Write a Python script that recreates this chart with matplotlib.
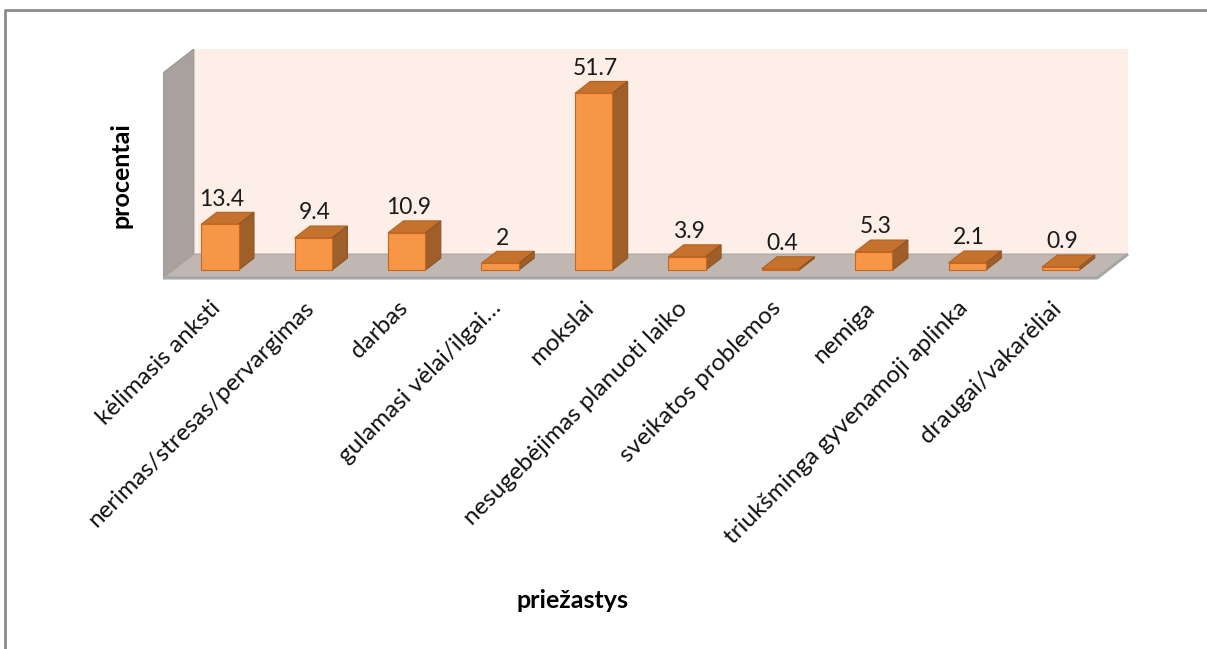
"""Priežastys - 3D stulpelinė diagrama (imituota 2D ašyse)"""
import matplotlib
matplotlib.use("Agg")
import matplotlib.pyplot as plt
from matplotlib.patches import Polygon, Rectangle
from matplotlib.lines import Line2D

categories = ["kėlimasis anksti", "nerimas/stresas/pervargimas", "darbas",
              "gulamasi vėlai/ilgai…", "mokslai",
              "nesugebėjimas planuoti laiko", "sveikatos problemos",
              "nemiga", "triukšminga gyvenamoji aplinka", "draugai/vakarėliai"]
values = [13.4, 9.4, 10.9, 2, 51.7, 3.9, 0.4, 5.3, 2.1, 0.9]
value_labels = ["13.4", "9.4", "10.9", "2", "51.7", "3.9", "0.4", "5.3",
                "2.1", "0.9"]

YMAX = 60
DX, DY = 0.33, 7.0      # gylio poslinkis (kategorijos / reikšmės vienetais)
Z0, Z1 = 0.33, 0.83     # stulpelio priekis ir galas (gylio dalis)
W = 0.4

FONT = ["Lato", "DejaVu Sans"]
plt.rcParams["font.family"] = FONT

W_PX, H_PX = 1207, 649
fig = plt.figure(figsize=(W_PX / 100, H_PX / 100), dpi=100)
ax = fig.add_axes([163 / W_PX, 1 - 278 / H_PX, 965 / W_PX, 229 / H_PX])
n = len(values)
ax.set_xlim(0, n + DX)
ax.set_ylim(0, YMAX + DY)
for s in ax.spines.values():
    s.set_visible(False)
ax.set_yticks([])

# sienos ir grindys
ax.add_patch(Rectangle((DX, DY), n, YMAX, facecolor="#fdeee8",
                       edgecolor="none", zorder=0))
ax.add_patch(Polygon([(0, 0), (DX, DY), (DX, DY + YMAX), (0, YMAX)],
                     closed=True, facecolor="#a8a19d", edgecolor="#9a9390",
                     lw=0.8, zorder=1))
ax.add_patch(Polygon([(0, 0), (n, 0), (n + DX, DY), (DX, DY)], closed=True,
                     facecolor="#c0b7b3", edgecolor="#a9a3a0", lw=0.8,
                     zorder=1))
ax.plot([0, n, n + DX], [0, 0, DY], color="#a6a6a6", lw=2.2, zorder=1,
        solid_capstyle="butt", clip_on=False)

# stulpeliai
x = [i + 0.5 for i in range(n)]
xf = [xi + Z0 * DX for xi in x]
ax.bar(xf, values, width=W, bottom=Z0 * DY, color="#f79646",
       edgecolor="#c8661c", linewidth=0.8, zorder=3)
for xi, v in zip(x, values):
    xl, xr = xi - W / 2, xi + W / 2
    top = [(xl + Z0 * DX, v + Z0 * DY), (xr + Z0 * DX, v + Z0 * DY),
           (xr + Z1 * DX, v + Z1 * DY), (xl + Z1 * DX, v + Z1 * DY)]
    side = [(xr + Z0 * DX, Z0 * DY), (xr + Z1 * DX, Z1 * DY),
            (xr + Z1 * DX, v + Z1 * DY), (xr + Z0 * DX, v + Z0 * DY)]
    ax.add_patch(Polygon(top, closed=True, facecolor="#c5722f",
                         edgecolor="#b5621f", lw=0.8, zorder=2))
    ax.add_patch(Polygon(side, closed=True, facecolor="#9e5f2a",
                         edgecolor="#8f5422", lw=0.8, zorder=2))

for xi, v, lab in zip(xf, values, value_labels):
    ax.annotate(lab, (xi + 0.02, v + Z1 * DY), xytext=(0, 2),
                textcoords="offset points", ha="center", va="bottom",
                fontsize=16.5, color="#1a1a1a", zorder=5)

ax.set_xticks(x)
ax.set_xticklabels(categories, rotation=45, ha="right",
                   rotation_mode="anchor", fontsize=17.5, color="#111111")
ax.tick_params(axis="x", length=0, pad=14)

fig.text(121 / W_PX, 1 - 175 / H_PX, "procentai", rotation=90,
         ha="center", va="center", fontsize=18, fontweight="bold")
fig.text(572 / W_PX, 1 - 600 / H_PX, "priežastys", ha="center",
         va="center", fontsize=18, fontweight="bold")

# rėmelis
fig.add_artist(Line2D([5 / W_PX, 5 / W_PX, 1], [0, 1 - 10 / H_PX,
                                                 1 - 10 / H_PX],
                      transform=fig.transFigure, color="#8c8c8c", lw=2))

fig.savefig("out.png", dpi=100)
